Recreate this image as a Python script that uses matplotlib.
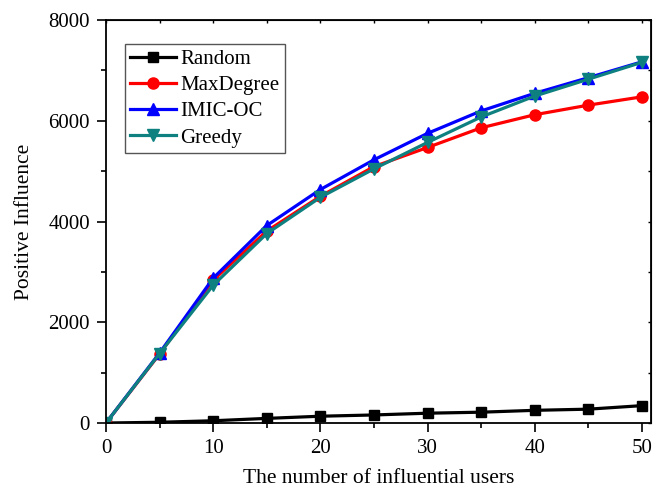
import matplotlib.pyplot as plt
from matplotlib.ticker import MultipleLocator

plt.rcParams['font.family'] = ['Liberation Serif', 'DejaVu Serif']

users = [0, 5, 10, 15, 20, 25, 30, 35, 40, 45, 50]
random_vals = [0, 15, 45, 92, 135, 160, 195, 215, 252, 275, 345]
maxdegree = [0, 1370, 2835, 3810, 4500, 5090, 5470, 5860, 6120, 6310, 6475]
imic_oc = [0, 1390, 2875, 3920, 4635, 5225, 5750, 6195, 6545, 6855, 7170]
greedy = [0, 1380, 2735, 3760, 4480, 5045, 5570, 6075, 6490, 6825, 7160]

fig = plt.figure(figsize=(6.53, 4.92), dpi=100)
ax = fig.add_axes([0.1623, 0.1402, 0.8354, 0.8191])

lw = 2.3
ax.plot(users, random_vals, color='black', marker='s', markersize=7.5, lw=lw, label='Random')
ax.plot(users, maxdegree, color='red', marker='o', markersize=8, lw=lw, label='MaxDegree')
ax.plot(users, imic_oc, color='blue', marker='^', markersize=8.5, lw=lw, label='IMIC-OC')
ax.plot(users, greedy, color='#0e8080', marker='v', markersize=8.5, lw=lw, label='Greedy')

ax.set_xlim(0, 50.9)
ax.set_ylim(0, 8000)
ax.xaxis.set_major_locator(MultipleLocator(10))
ax.xaxis.set_minor_locator(MultipleLocator(5))
ax.yaxis.set_major_locator(MultipleLocator(2000))
ax.yaxis.set_minor_locator(MultipleLocator(1000))
ax.tick_params(which='both', direction='out', width=1.2, labelsize=15)
ax.tick_params(which='major', length=6.5, pad=5)
ax.tick_params(which='minor', length=3.8)
for s in ax.spines.values():
    s.set_linewidth(1.3)

# small inward ticks on the top and right spines
top = ax.secondary_xaxis('top')
top.xaxis.set_major_locator(MultipleLocator(5))
top.tick_params(direction='in', length=2, width=1.0, labeltop=False)
right = ax.secondary_yaxis('right')
right.yaxis.set_major_locator(MultipleLocator(1000))
right.tick_params(direction='in', length=2, width=1.0, labelright=False)

ax.set_xlabel('The number of influential users', fontsize=15.5, labelpad=8)
ax.set_ylabel('Positive Influence', fontsize=15.5, labelpad=10)

leg = ax.legend(loc='upper left', bbox_to_anchor=(0.035, 0.94), borderaxespad=0,
                fontsize=15, fancybox=False, edgecolor='#555555', framealpha=1,
                handlelength=2.2, borderpad=0.25, labelspacing=0.32, handletextpad=0.2)
leg.get_frame().set_linewidth(1.0)

plt.savefig('out.png', dpi=100)
